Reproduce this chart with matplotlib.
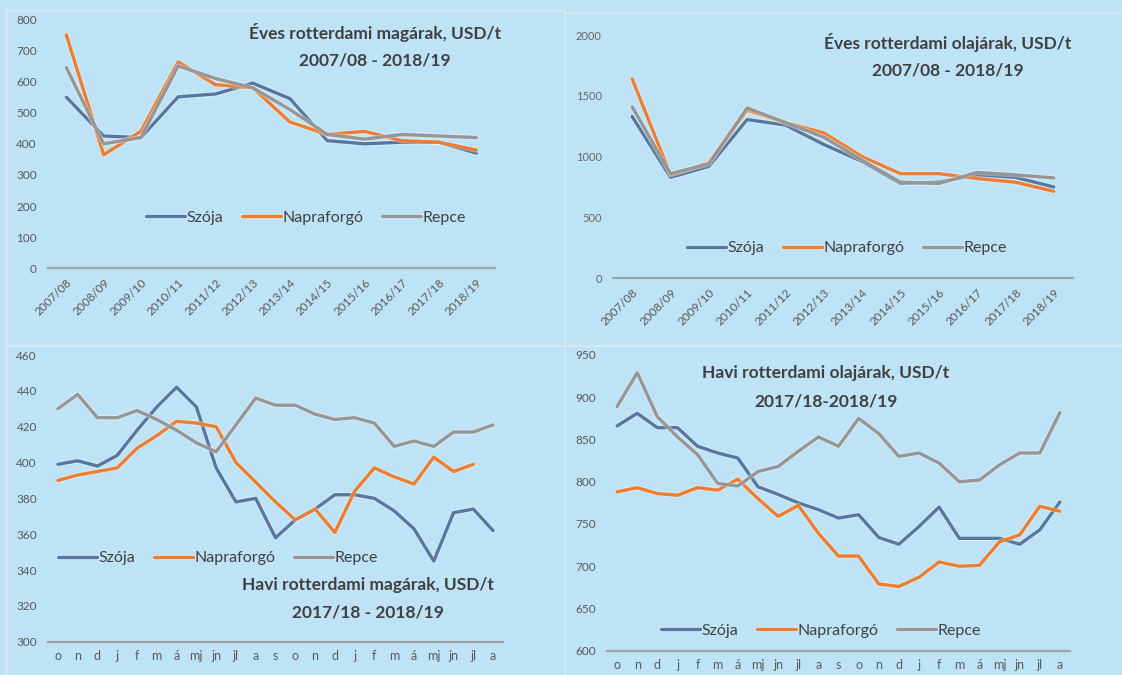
import matplotlib.pyplot as plt
import matplotlib.patheffects as pe
from matplotlib.lines import Line2D

plt.rcParams['font.family'] = ['Lato', 'DejaVu Sans']

W, H = 1122, 675
BG = '#BEE3F7'
TXT = '#404040'
TICK = '#595959'
COLORS = {'Szója': '#5877A0', 'Napraforgó': '#ED7D31', 'Repce': '#969696'}

years = ['2007/08', '2008/09', '2009/10', '2010/11', '2011/12', '2012/13',
         '2013/14', '2014/15', '2015/16', '2016/17', '2017/18', '2018/19']
months = ['o', 'n', 'd', 'j', 'f', 'm', 'á', 'mj', 'jn', 'jl', 'a', 's',
          'o', 'n', 'd', 'j', 'f', 'm', 'á', 'mj', 'jn', 'jl', 'a']

# yearly seed prices
seed_szoja = [550, 425, 420, 551, 560, 595, 545, 410, 400, 405, 405, 370]
seed_napra = [750, 365, 440, 663, 590, 580, 470, 430, 440, 410, 405, 380]
seed_repce = [645, 400, 420, 650, 610, 580, 510, 430, 415, 430, 425, 420]

# yearly oil prices
oil_szoja = [1330, 830, 920, 1305, 1260, 1100, 960, 780, 790, 850, 830, 750]
oil_napra = [1640, 850, 950, 1383, 1280, 1195, 1000, 860, 860, 820, 790, 715]
oil_repce = [1410, 860, 940, 1400, 1280, 1160, 970, 790, 780, 870, 850, 825]

# monthly seed prices
mseed_szoja = [399, 401, 398, 404, 418, 431, 442, 431, 397, 378, 380, 358,
               368, 374, 382, 382, 380, 373, 363, 345, 372, 374, 362]
mseed_napra = [390, 393, 395, 397, 408, 415, 423, 422, 420, 400, 389, 378,
               368, 374, 361, 384, 397, 392, 388, 403, 395, 399, None]
mseed_repce = [430, 438, 425, 425, 429, 424, 418, 411, 406, 421, 436, 432,
               432, 427, 424, 425, 422, 409, 412, 409, 417, 417, 421]

# monthly oil prices
moil_szoja = [866, 881, 864, 864, 842, 834, 828, 794, 785, 775, 767, 757,
              761, 734, 726, 747, 770, 733, 733, 733, 726, 743, 776]
moil_napra = [788, 793, 786, 784, 793, 790, 803, 780, 759, 772, 739, 712,
              712, 679, 676, 687, 705, 700, 701, 729, 737, 771, 765]
moil_repce = [889, 929, 877, 853, 832, 798, 795, 812, 818, 836, 853, 842,
              875, 857, 830, 834, 822, 800, 802, 820, 834, 834, 882]


def frac(x0, y0, x1, y1):
    return [x0 / W, 1 - y1 / H, (x1 - x0) / W, (y1 - y0) / H]


def px(x, y):
    return x / W, 1 - y / H


fig = plt.figure(figsize=(W / 100, H / 100), dpi=100, facecolor=BG)

# panel borders
for (xa, ya, xb, yb) in [(7, 10.5, 565, 10.5), (565, 13, 1122, 13),
                         (7, 346, 1122, 346), (7, 10.5, 7, 675),
                         (565, 10.5, 565, 675)]:
    fig.add_artist(Line2D([xa / W, xb / W], [1 - ya / H, 1 - yb / H],
                          color='#DDE8EE', lw=1.2))


def panel(rect, cats, series, ylim, yticks, rot, tsize, ysize, ycol):
    ax = fig.add_axes(rect)
    ax.set_facecolor('none')
    x = list(range(len(cats)))
    for name, vals in series:
        xs = [i for i, v in zip(x, vals) if v is not None]
        ys = [v for v in vals if v is not None]
        ax.plot(xs, ys, color=COLORS[name], lw=2.4, label=name,
                solid_joinstyle='round', solid_capstyle='round',
                path_effects=[pe.Stroke(linewidth=3.8, foreground='white', alpha=0.35),
                              pe.Normal()])
    ax.set_xlim(-0.5, len(cats) - 0.5)
    ax.set_ylim(*ylim)
    ax.set_yticks(yticks)
    ax.set_xticks(x)
    if rot:
        ax.set_xticklabels(cats, rotation=45, ha='right', rotation_mode='anchor')
    else:
        ax.set_xticklabels(cats)
    ax.tick_params(length=0, labelsize=tsize, colors=TICK, pad=6)
    ax.tick_params(axis='y', labelsize=ysize, colors=ycol, pad=8)
    for s in ['top', 'right', 'left']:
        ax.spines[s].set_visible(False)
    ax.spines['bottom'].set_color('#A0A4A8')
    ax.spines['bottom'].set_linewidth(1.6)
    return ax


def legend(ax, cx, cy):
    ax.legend(loc='center', bbox_to_anchor=px(cx, cy),
              bbox_transform=fig.transFigure, ncol=3, frameon=False,
              fontsize=11.5, handlelength=2.4, handletextpad=0.1,
              columnspacing=1.2, labelcolor=TXT)


def title(lines, cx, ys, size):
    for t, y in zip(lines, ys):
        fig.text(*px(cx, y), t, ha='center', va='center', fontsize=size,
                 fontweight='bold', color=TXT)


ax1 = panel(frac(47.7, 19.3, 495, 268.3), years,
            [('Szója', seed_szoja), ('Napraforgó', seed_napra), ('Repce', seed_repce)],
            (0, 800), range(0, 801, 100), True, 8.5, 8.5, TICK)
legend(ax1, 306, 218)
title(['Éves rotterdami magárak, USD/t', '2007/08 - 2018/19'], 375, [32, 60], 12.5)

ax2 = panel(frac(613, 35, 1073, 278.3), years,
            [('Szója', oil_szoja), ('Napraforgó', oil_napra), ('Repce', oil_repce)],
            (0, 2000), range(0, 2001, 500), True, 8.5, 8, '#666666')
legend(ax2, 847, 248)
title(['Éves rotterdami olajárak, USD/t', '2007/08 - 2018/19'], 948, [42, 70], 12.5)

ax3 = panel(frac(48, 355, 503, 641.7), months,
            [('Szója', mseed_szoja), ('Napraforgó', mseed_napra), ('Repce', mseed_repce)],
            (300, 460), range(300, 461, 20), False, 9, 8.5, TICK)
legend(ax3, 218, 558)
title(['Havi rotterdami magárak, USD/t', '2017/18 - 2018/19'], 368, [585, 612], 12.5)

ax4 = panel(frac(607, 355, 1070, 650.7), months,
            [('Szója', moil_szoja), ('Napraforgó', moil_napra), ('Repce', moil_repce)],
            (600, 950), range(600, 951, 50), False, 9, 8.5, TICK)
legend(ax4, 821, 631)
title(['Havi rotterdami olajárak, USD/t', '2017/18-2018/19'], 826, [373, 402], 12.5)

fig.savefig('out.png', dpi=100, facecolor=BG)
